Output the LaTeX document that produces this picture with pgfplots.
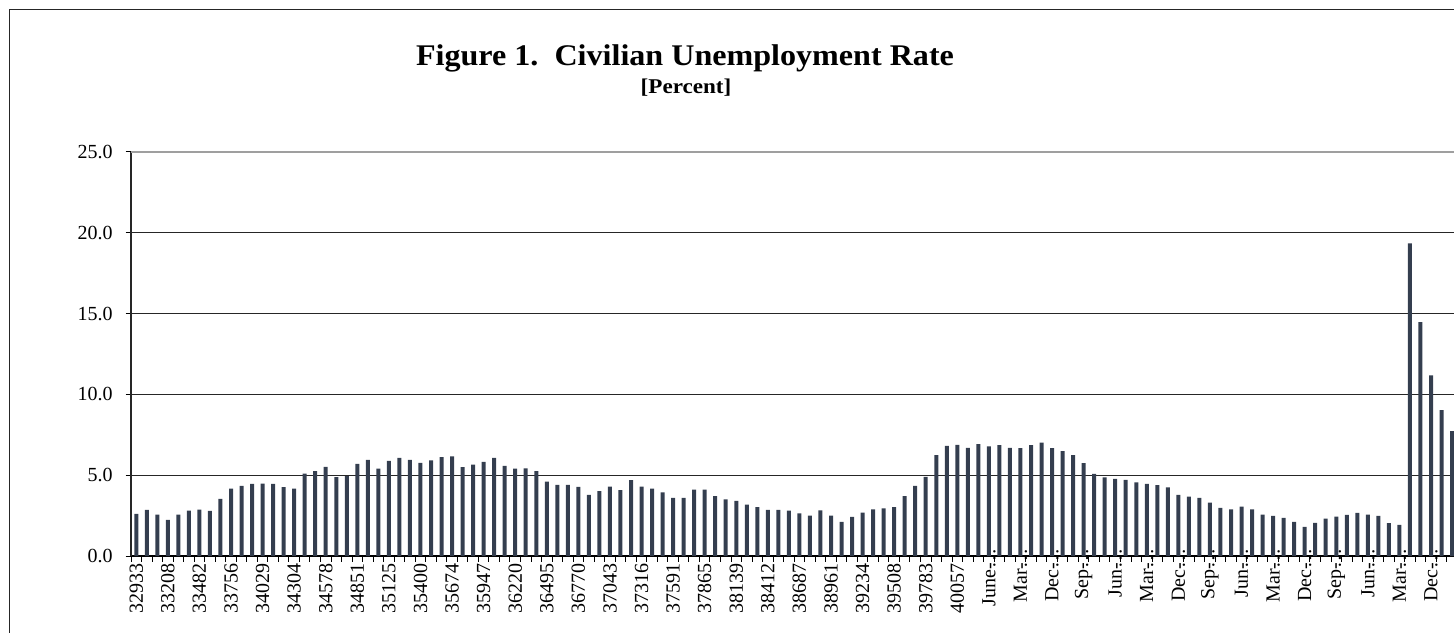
\documentclass[border=0pt]{standalone}
\usepackage{graphicx}
\usepackage{fontspec}
\setmainfont{Liberation Serif}
\usepackage{pgfplots}
\usepackage{pgfplotstable}
\pgfplotsset{compat=1.18}
\definecolor{barcol}{RGB}{52,62,79}
\newcommand{\trunc}{\rlap{\hspace{-0.25em}…}}
\pgfplotstableread{
x y
0 2.60
1 2.85
2 2.56
3 2.23
4 2.56
5 2.81
6 2.87
7 2.79
8 3.53
9 4.17
10 4.34
11 4.46
12 4.48
13 4.46
14 4.26
15 4.17
16 5.10
17 5.25
18 5.52
19 4.88
20 4.94
21 5.70
22 5.95
23 5.41
24 5.89
25 6.07
26 5.95
27 5.76
28 5.91
29 6.12
30 6.16
31 5.50
32 5.66
33 5.83
34 6.07
35 5.58
36 5.41
37 5.43
38 5.25
39 4.61
40 4.40
41 4.40
42 4.28
43 3.78
44 4.01
45 4.30
46 4.07
47 4.69
48 4.30
49 4.17
50 3.93
51 3.60
52 3.60
53 4.11
54 4.11
55 3.70
56 3.51
57 3.41
58 3.18
59 3.02
60 2.85
61 2.85
62 2.81
63 2.64
64 2.50
65 2.83
66 2.50
67 2.11
68 2.42
69 2.69
70 2.89
71 2.95
72 3.02
73 3.70
74 4.34
75 4.90
76 6.24
77 6.82
78 6.88
79 6.69
80 6.92
81 6.78
82 6.86
83 6.69
84 6.67
85 6.86
86 7.02
87 6.67
88 6.49
89 6.24
90 5.74
91 5.08
92 4.86
93 4.77
94 4.71
95 4.55
96 4.46
97 4.38
98 4.24
99 3.78
100 3.68
101 3.60
102 3.31
103 2.98
104 2.89
105 3.06
106 2.89
107 2.56
108 2.48
109 2.36
110 2.11
111 1.80
112 2.05
113 2.31
114 2.44
115 2.54
116 2.67
117 2.56
118 2.48
119 2.04
120 1.92
121 19.34
122 14.47
123 11.18
124 9.03
125 7.73
}\ratetable
\begin{document}
\begin{tikzpicture}
\useasboundingbox (0,0) rectangle (727pt,316pt);
\clip (0,0) rectangle (727pt,316pt);
\draw[line width=0.5pt, black!85] (4.5pt,-20pt) -- (4.5pt,311pt) -- (760pt,311pt);
\node[anchor=base] at (342.5pt,283pt) {\scalebox{1.07}[1]{\fontsize{15}{18}\selectfont\bfseries Figure 1.\ \ Civilian Unemployment Rate}};
\node[anchor=base] at (343pt,269pt) {\scalebox{1.1}[1]{\fontsize{10.5}{12}\selectfont\bfseries [Percent]}};
\begin{axis}[
  at={(65.5pt,38pt)}, anchor=south west,
  scale only axis, width=663.15pt, height=202pt,
  xmin=-0.5, xmax=125.5, ymin=0, ymax=25,
  axis lines*=left,
  x axis line style={black, line width=0.6pt},
  y axis line style={black!85, line width=0.9pt},
  tick align=outside,
  major tick length=2.75pt,
  tick style={black, line width=0.5pt},
  xtick={-0.5,0.5,...,125.5},
  xticklabels={},
  extra x ticks={0,3,...,123},
  extra x tick labels={32933,33208,33482,33756,34029,34304,34578,34851,35125,35400,35674,35947,36220,36495,36770,37043,37316,37591,37865,38139,38412,38687,38961,39234,39508,39783,40057,June-\trunc,Mar-\trunc,Dec-\trunc,Sep-\trunc,Jun-\trunc,Mar-\trunc,Dec-\trunc,Sep-\trunc,Jun-\trunc,Mar-\trunc,Dec-\trunc,Sep-\trunc,Jun-\trunc,Mar-\trunc,Dec-\trunc},
  extra x tick style={major tick length=0pt, grid=none, tick label style={rotate=90, anchor=east, font=\fontsize{10}{12}\selectfont}},
  ytick={0,5,10,15,20},
  yticklabels={0.0,5.0,10.0,15.0,20.0},
  extra y ticks={25},
  extra y tick labels={25.0},
  extra y tick style={grid=major, grid style={gray!75, line width=1pt}},
  ymajorgrids=true,
  grid style={black!85, line width=0.5pt},
  yticklabel style={xshift=-2.9pt, font=\fontsize{10}{12}\selectfont},
  ybar, bar width=2pt,
]
\addplot[fill=barcol, draw=none] table[x=x, y=y] {\ratetable};
\end{axis}
\end{tikzpicture}
\end{document}
